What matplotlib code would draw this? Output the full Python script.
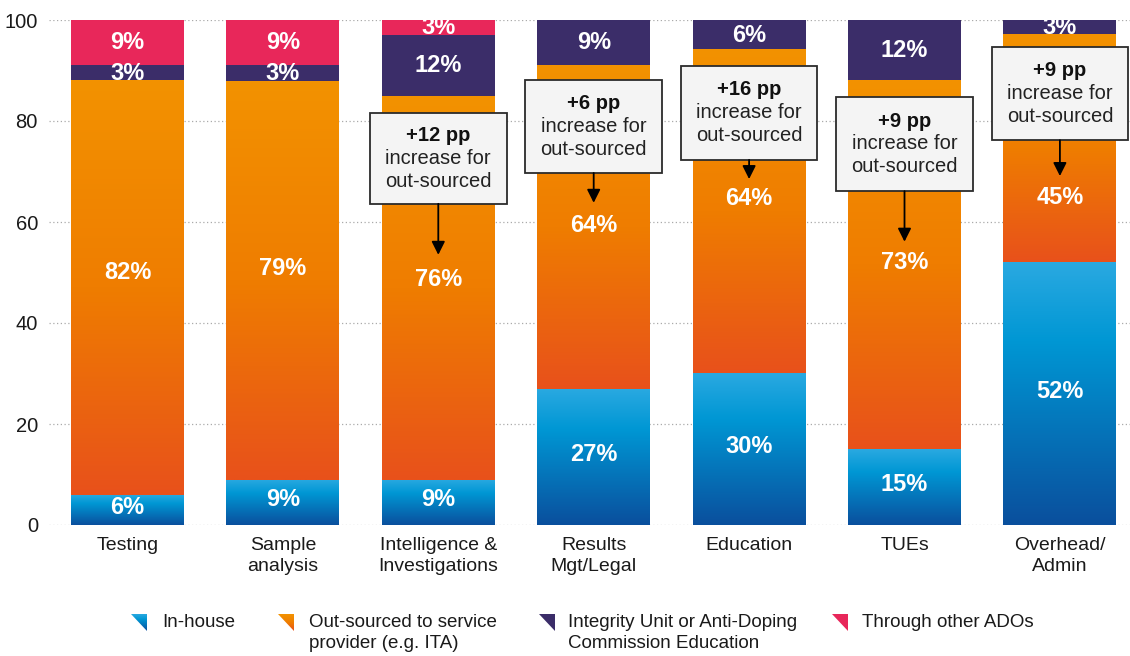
import numpy as np
import matplotlib
matplotlib.use("Agg")
import matplotlib.pyplot as plt
from matplotlib.colors import LinearSegmentedColormap
from matplotlib.patches import Rectangle, Polygon

plt.rcParams['font.family'] = ['Liberation Sans', 'DejaVu Sans']

# data
categories = ['Testing', 'Sample\nanalysis', 'Intelligence &\nInvestigations',
              'Results\nMgt/Legal', 'Education', 'TUEs', 'Overhead/\nAdmin']
in_house = [6, 9, 9, 27, 30, 15, 52]
out_sourced = [82, 79, 76, 64, 64, 73, 45]
integrity = [3, 3, 12, 9, 6, 12, 3]
other_ados = [9, 9, 3, 0, 0, 0, 0]

# call-out boxes (bar index, text)
note_bars = [2, 3, 4, 5, 6]
note_text = ['+12 pp', '+6 pp', '+16 pp', '+9 pp', '+9 pp']

legend_labels = ['In-house', 'Out-sourced to service\nprovider (e.g. ITA)',
                 'Integrity Unit or Anti-Doping\nCommission Education', 'Through other ADOs']

blue_cmap = LinearSegmentedColormap.from_list('blue', [(0, '#2aa9e1'), (0.3, '#0097d4'), (1, '#0a4f9d')])
orange_cmap = LinearSegmentedColormap.from_list('orange', ['#f39200', '#ef7d00', '#e8511b'])
purple = '#3b2d69'
pink = '#e8275a'

W, H = 1130, 656
fig = plt.figure(figsize=(W / 100, H / 100), dpi=100)
ax = fig.add_axes([49 / W, 1 - 525 / H, (W - 49) / W, (525 - 20) / H])

x = np.arange(len(categories))
bw = 0.727
in_house = np.array(in_house)
out_sourced = np.array(out_sourced)
integrity = np.array(integrity)
other_ados = np.array(other_ados)
b1 = in_house
b2 = b1 + out_sourced
b3 = b2 + integrity


def fill_gradient(ax, rect, cmap):
    x0, y0 = rect.get_x(), rect.get_y()
    w, h = rect.get_width(), rect.get_height()
    if h <= 0:
        return
    grad = np.linspace(0, 1, 256).reshape(-1, 1)
    ax.imshow(grad, cmap=cmap, extent=(x0, x0 + w, y0, y0 + h), aspect='auto',
              origin='upper', zorder=2, interpolation='bilinear')
    rect.set_facecolor('none')


bars_in = ax.bar(x, in_house, bw, color='#0097d4', zorder=2)
bars_out = ax.bar(x, out_sourced, bw, bottom=b1, color='#ef7d00', zorder=2)
ax.bar(x, integrity, bw, bottom=b2, color=purple, zorder=2)
ax.bar(x, other_ados, bw, bottom=b3, color=pink, zorder=2)
for r in bars_in:
    fill_gradient(ax, r, blue_cmap)
for r in bars_out:
    fill_gradient(ax, r, orange_cmap)

# percentage labels
lab = dict(color='white', fontsize=17, fontweight='bold', ha='center', va='center', zorder=5)
orange_label_y = [50, 50.7, 48.7, 59.4, 64.6, 52, 64.8]
for i in x:
    ax.text(i, in_house[i] / 2 + 0.5, f'{in_house[i]}%', **lab)
    ax.text(i, orange_label_y[i], f'{out_sourced[i]}%', **lab)
    if integrity[i]:
        ax.text(i, b2[i] + integrity[i] / 2, f'{integrity[i]}%', **lab)
    if other_ados[i]:
        ax.text(i, b3[i] + other_ados[i] / 2, f'{other_ados[i]}%', **lab)

# call-outs
box_top = [81.6, 88.1, 90.9, 84.8, 94.7]
box_bottom = [63.6, 69.7, 72.3, 66.1, 76.2]
arrow_tip = [53.5, 63.8, 68.5, 56.1, 69.1]
box_w = 0.88
for k, i in enumerate(note_bars):
    cx = x[i]
    ax.add_patch(Rectangle((cx - box_w / 2, box_bottom[k]), box_w, box_top[k] - box_bottom[k],
                           facecolor='#f4f4f4', edgecolor='#2b2b2b', lw=1.3, zorder=6))
    cy = (box_top[k] + box_bottom[k]) / 2
    ax.text(cx, cy + 4.55, note_text[k], ha='center', va='center', fontsize=14.5,
            fontweight='bold', color='#111111', zorder=7)
    ax.text(cx, cy, 'increase for', ha='center', va='center', fontsize=14.5, color='#222222', zorder=7)
    ax.text(cx, cy - 4.55, 'out-sourced', ha='center', va='center', fontsize=14.5, color='#222222', zorder=7)
    ax.annotate('', xy=(cx, arrow_tip[k]), xytext=(cx, box_bottom[k]),
                arrowprops=dict(arrowstyle='-|>', mutation_scale=20, lw=1.3, color='black',
                                shrinkA=0, shrinkB=0), zorder=7)

ax.set_xlim(-0.505, 6.451)
ax.set_ylim(0, 100)
ax.set_yticks(range(0, 101, 20))
ax.set_xticks(x)
ax.set_xticklabels(categories, linespacing=1.3)
ax.tick_params(axis='both', length=0, labelsize=14, labelcolor='#1a1a1a')
ax.tick_params(axis='y', labelsize=14.5, pad=8)
ax.tick_params(axis='x', pad=9)
for s in ax.spines.values():
    s.set_visible(False)
ax.yaxis.grid(True, color='#aaaaaa', linestyle=(0, (1, 2)), lw=0.9, zorder=0)
ax.set_axisbelow(True)

# legend
leg_cmaps = [blue_cmap, orange_cmap,
             LinearSegmentedColormap.from_list('p', [purple, purple]),
             LinearSegmentedColormap.from_list('k', [pink, pink])]
marker_x = [131, 278, 539, 832]
text_x = [162, 309, 568, 862]
for cm, mx, tx, lbl in zip(leg_cmaps, marker_x, text_x, legend_labels):
    lax = fig.add_axes([mx / W, 1 - 631 / H, 16 / W, 17 / H])
    lax.set_axis_off()
    im = lax.imshow(np.linspace(0, 1, 64).reshape(-1, 1), cmap=cm, extent=(0, 1, 0, 1),
                    aspect='auto', origin='upper')
    tri = Polygon([(0, 1), (1, 1), (1, 0)], closed=True, transform=lax.transAxes,
                  facecolor='none', edgecolor='none')
    lax.add_patch(tri)
    im.set_clip_path(tri)
    fig.text(tx / W, 1 - 614 / H, lbl, ha='left', va='top', fontsize=13.5, color='#1a1a1a',
             linespacing=1.3)

fig.savefig('out.png', dpi=100)
